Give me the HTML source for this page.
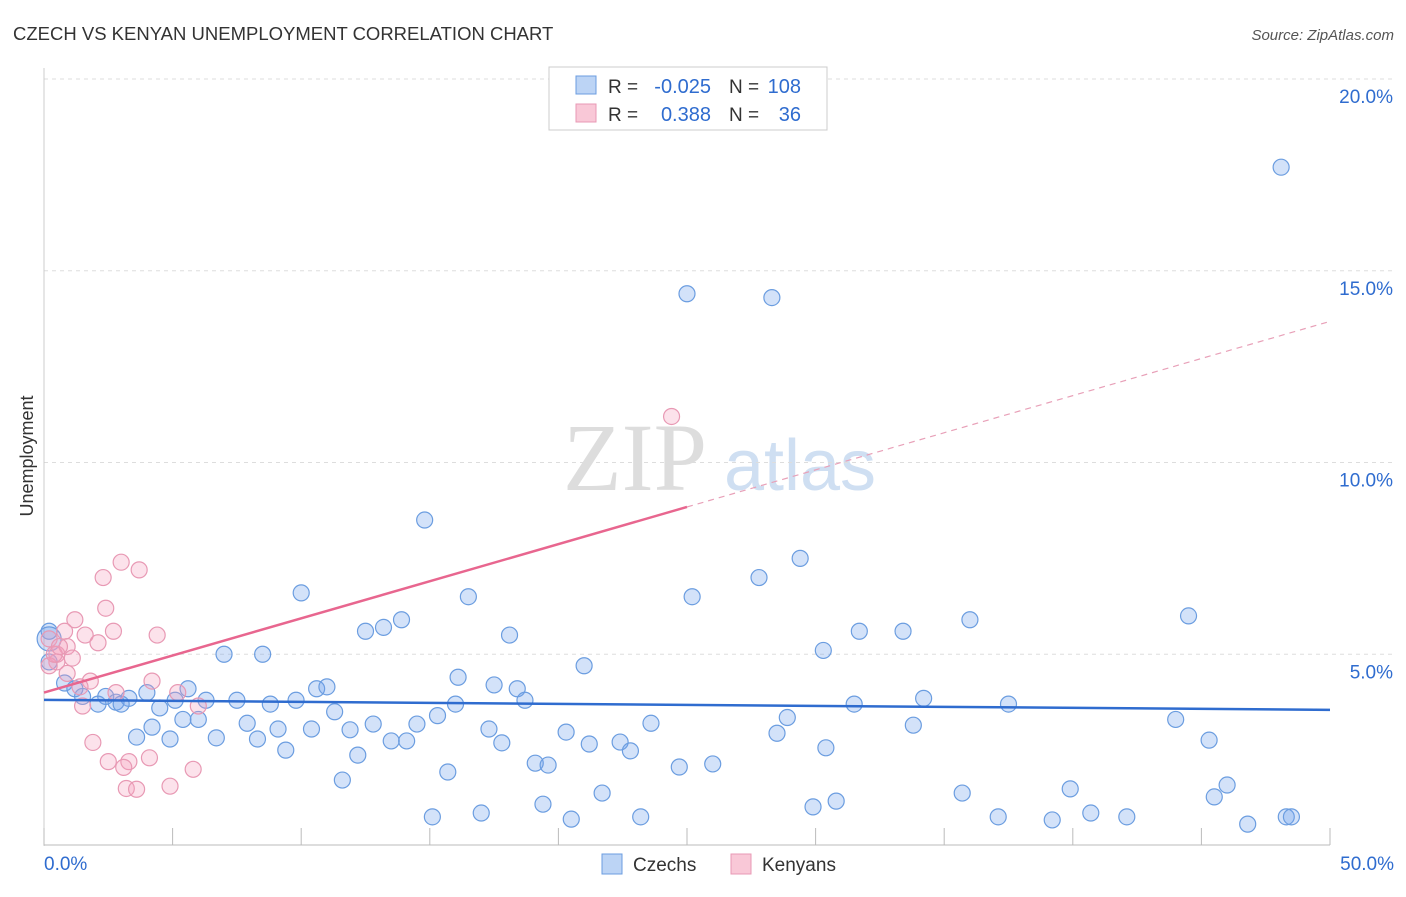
<!DOCTYPE html>
<html><head><meta charset="utf-8"><style>
body{margin:0;background:#fff;font-family:"Liberation Sans",sans-serif}
</style></head><body>
<svg id="c" width="1406" height="892" xmlns="http://www.w3.org/2000/svg">
<text x="13" y="40" font-size="18.5" fill="#333">CZECH VS KENYAN UNEMPLOYMENT CORRELATION CHART</text>
<text x="1394" y="40" font-size="15" fill="#555" font-style="italic" text-anchor="end">Source: ZipAtlas.com</text>
<text transform="translate(33,456) rotate(-90)" font-size="18" fill="#333" text-anchor="middle">Unemployment</text>
<g>
<text x="635" y="490" font-size="96" fill="#ddd" font-family="Liberation Serif" text-anchor="middle">ZIP</text>
<text x="800" y="490" font-size="72" fill="#cfdff2" text-anchor="middle">atlas</text></g>
<g id="grid"></g><g id="axes"></g><g id="marks"></g>
<g>
<rect x="549" y="67" width="278" height="63" fill="#fff" stroke="#ccc"/>
<rect x="576" y="76" width="20" height="18" fill="#bcd4f5" stroke="#6b9de0"/>
<rect x="576" y="104" width="20" height="18" fill="#f9c8d7" stroke="#e899b4"/>
<text x="608" y="93" font-size="19" fill="#333">R =</text>
<text x="711" y="93" font-size="20" fill="#2f6ccf" text-anchor="end">-0.025</text>
<text x="729" y="93" font-size="19" fill="#333">N =</text>
<text x="801" y="93" font-size="20" fill="#2f6ccf" text-anchor="end">108</text>
<text x="608" y="121" font-size="19" fill="#333">R =</text>
<text x="711" y="121" font-size="20" fill="#2f6ccf" text-anchor="end">0.388</text>
<text x="729" y="121" font-size="19" fill="#333">N =</text>
<text x="801" y="121" font-size="20" fill="#2f6ccf" text-anchor="end">36</text>
</g>
<g>
<rect x="602" y="854" width="20" height="20" fill="#bcd4f5" stroke="#6b9de0"/>
<text x="633" y="871" font-size="19" fill="#333">Czechs</text>
<rect x="731" y="854" width="20" height="20" fill="#f9c8d7" stroke="#e899b4"/>
<text x="762" y="871" font-size="19" fill="#333">Kenyans</text>
</g>
</svg>
<script>
const yTicks=[5,10,15,20];
const yTickLabels=["5.0%","10.0%","15.0%","20.0%"];
const xTickLabels=["0.0%","50.0%"];
const blueX=[48.1,25.0,28.3,14.8,29.4,27.8,10.0,16.5,25.2,44.5,36.0,13.9,12.5,13.2,18.1,31.7,33.4,0.2,30.3,7.0,8.5,21.0,0.2,16.1,0.8,1.2,10.6,11.0,17.5,18.4,4.0,5.6,1.5,2.4,3.3,2.8,3.0,2.1,6.3,7.5,8.8,9.8,5.1,4.5,34.2,37.5,31.5,18.7,16.0,11.3,15.3,28.9,44.0,6.0,5.4,23.6,4.2,7.9,12.8,14.5,9.1,10.4,11.9,17.3,33.8,20.3,28.5,3.6,4.9,6.7,8.3,13.5,14.1,17.8,22.4,21.2,45.3,22.8,30.4,9.4,12.2,19.1,19.6,24.7,26.0,15.7,11.6,46.0,39.9,21.7,35.7,45.5,30.8,29.9,19.4,40.7,17.0,15.1,23.2,37.1,42.1,20.5,39.2,48.3,48.5,46.8,0.2];
const blueY=[17.7,14.4,14.3,8.5,7.5,7.0,6.6,6.5,6.5,6.0,5.9,5.9,5.6,5.7,5.5,5.6,5.6,5.6,5.1,5.0,5.0,4.7,4.8,4.4,4.25,4.1,4.1,4.15,4.2,4.1,4.0,4.1,3.9,3.9,3.85,3.75,3.7,3.7,3.8,3.8,3.7,3.8,3.8,3.6,3.85,3.7,3.7,3.8,3.7,3.5,3.4,3.35,3.3,3.3,3.3,3.2,3.1,3.2,3.18,3.18,3.05,3.05,3.03,3.05,3.15,2.97,2.94,2.84,2.79,2.82,2.79,2.74,2.74,2.69,2.71,2.66,2.76,2.48,2.56,2.50,2.37,2.16,2.11,2.06,2.14,1.93,1.72,1.59,1.49,1.38,1.38,1.28,1.17,1.02,1.09,0.86,0.86,0.76,0.76,0.76,0.76,0.70,0.68,0.76,0.76,0.57,5.4];
const pinkX=[24.4,3.0,3.7,2.3,2.4,1.2,2.7,4.4,1.6,0.8,2.1,0.9,0.2,0.5,1.1,0.5,0.2,0.9,1.8,4.2,1.4,5.2,1.5,2.8,6.0,1.9,2.5,3.3,4.1,3.1,5.8,3.2,3.6,4.9,0.4,0.6];
const pinkY=[11.2,7.4,7.2,7.0,6.2,5.9,5.6,5.5,5.5,5.6,5.3,5.2,5.4,5.0,4.9,4.8,4.7,4.5,4.3,4.3,4.15,4.0,3.65,4.0,3.65,2.7,2.2,2.2,2.3,2.05,2.0,1.5,1.48,1.56,5.0,5.2];
const blueTrend=[3.81,3.55];
const pinkTrend=[4.0,8.84];
const ns="http://www.w3.org/2000/svg";
const X=v=>44+v*25.72, Y=v=>846-v*38.35;
function mk(t,a,p){const e=document.createElementNS(ns,t);for(const k in a)e.setAttribute(k,a[k]);document.getElementById(p).appendChild(e);return e;}
yTicks.forEach((t,i)=>{
 const l=mk('line',{x1:44,x2:1394,y1:Y(t),y2:Y(t),stroke:'#ddd','stroke-dasharray':'4,4'},'grid');
 
 
 const tx=mk('text',{x:1393,y:Y(t)+24,'font-size':19,fill:'#2f6ccf','text-anchor':'end'},'axes');
 tx.textContent=yTickLabels[i];
 
 
});
const topLine=mk('line',{x1:44,x2:1394,y1:79,y2:79,stroke:'#ddd','stroke-dasharray':'4,4'},'grid');


const ya=mk('line',{x1:44,x2:44,y1:68,y2:846,stroke:'#ccc'},'axes');


const xa=mk('line',{x1:44,x2:1330,y1:845,y2:845,stroke:'#bbb'},'axes');


for(let i=0;i<=10;i++){const t=mk('line',{x1:X(i*5),x2:X(i*5),y1:828,y2:845,stroke:'#bbb'},'axes');
 
 }
[[0,'start',44],[50,'end',1394]].forEach((d,i)=>{const t=mk('text',{x:d[2],y:870,'font-size':19,fill:'#2f6ccf','text-anchor':d[1]},'axes');t.textContent=xTickLabels[i];
 
 });
blueX.forEach((x,i)=>{const c=mk('circle',{cx:X(x),cy:Y(blueY[i]),r:i==blueX.length-1?12:8,fill:'rgba(110,160,235,0.3)',stroke:'#6b9de0','stroke-width':1.2},'marks');
 
 });
pinkX.forEach((x,i)=>{const c=mk('circle',{cx:X(x),cy:Y(pinkY[i]),r:8,fill:'rgba(245,160,190,0.3)',stroke:'#e899b4','stroke-width':1.2},'marks');
 
 });
const bt=mk('line',{x1:X(0),y1:Y(blueTrend[0]),x2:X(50),y2:Y(blueTrend[1]),stroke:'#2f6ccf','stroke-width':2.5},'marks');


const ps=(pinkTrend[1]-pinkTrend[0])/25;
const pt=mk('line',{x1:X(0),y1:Y(pinkTrend[0]),x2:X(25),y2:Y(pinkTrend[1]),stroke:'#e8668f','stroke-width':2.5},'marks');


const pd=mk('line',{x1:X(25),y1:Y(pinkTrend[1]),x2:X(50),y2:Y(pinkTrend[0]+ps*50),stroke:'#e8a0b8','stroke-width':1.2,'stroke-dasharray':'6,5'},'marks');


</script>
</body></html>
